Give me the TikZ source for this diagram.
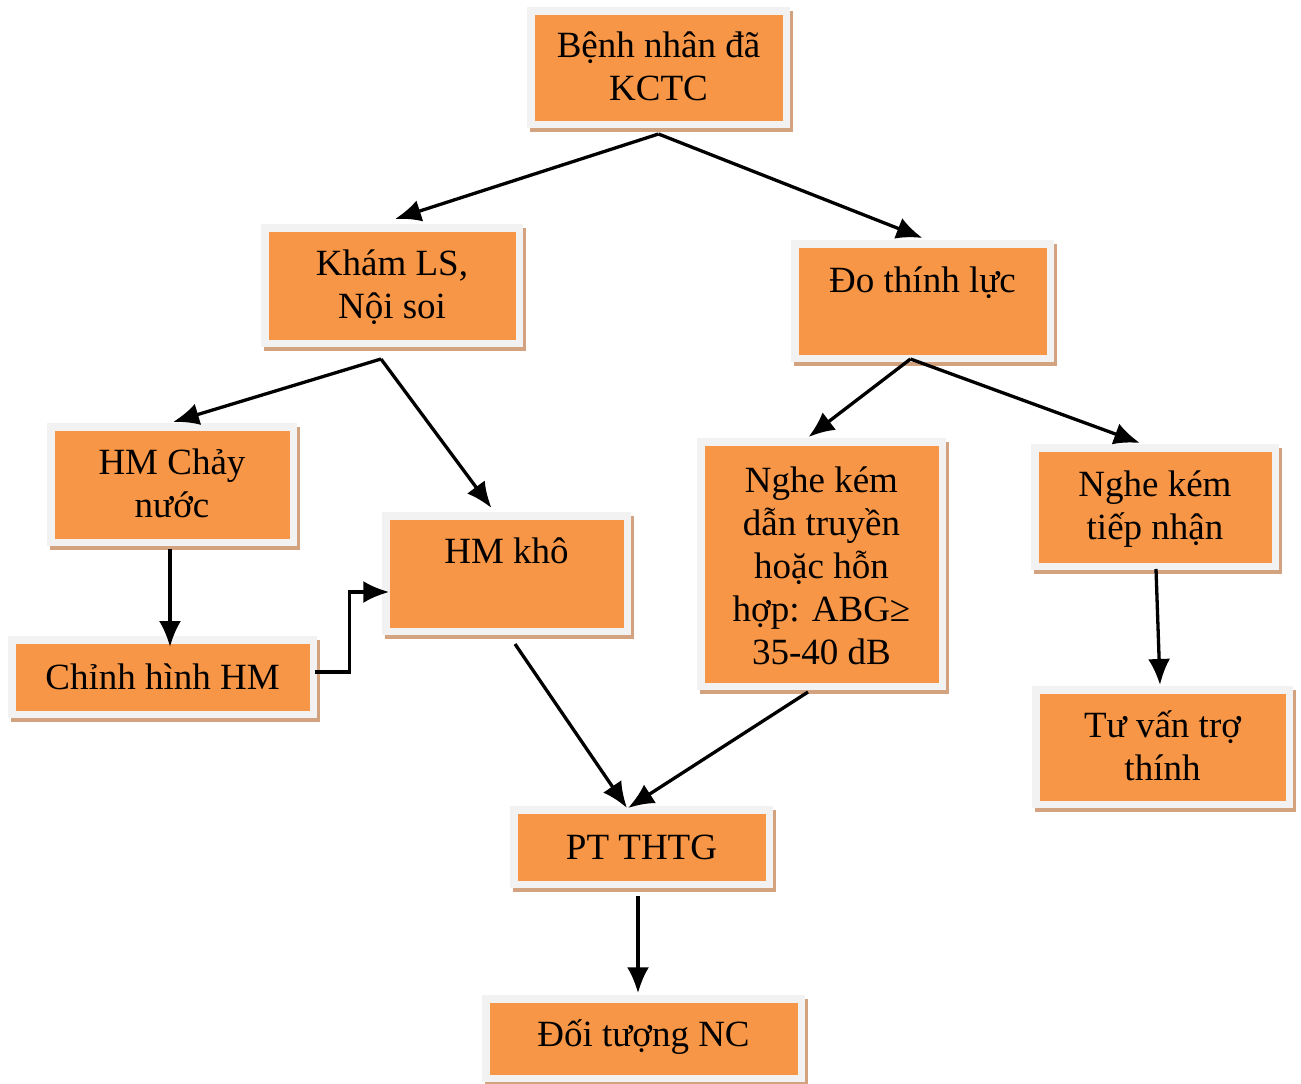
\documentclass[tikz,border=0pt]{standalone}
\usepackage{fontspec}
\setmainfont{Liberation Serif}
\usepackage{xcolor}
\usepackage{tikz}
\usetikzlibrary{shapes,backgrounds,calc,shadows,arrows.meta}

\definecolor{boxorange}{HTML}{F79646}
\definecolor{framegrey}{HTML}{F2F2F2}
\definecolor{shadowtan}{HTML}{D3A27F}

% text of a box, set from the top: height, width, lines
\newcommand{\boxtext}[3]{\parbox[c][#1pt][t]{#2pt}{\centering\strut #3}}

\begin{document}
\begin{tikzpicture}[x=1pt,y=-1pt]
        % Define the styles for the boxes and the arrows
        \tikzstyle{orange box}=[rectangle, fill=boxorange, draw=framegrey, line width=7.5pt, inner sep=0pt,
            drop shadow={shadow xshift=3pt, shadow yshift=-3.5pt, fill=shadowtan, draw=shadowtan, line width=7.5pt, opacity=1},
            font=\fontsize{37}{43}\selectfont];
        \tikzstyle{flow}=[draw=black, line width=3.3pt, -{Latex[length=26pt,width=22pt]}];

        \useasboundingbox (0,0) rectangle (1301,1084);

        % Draw the boxes
        \node[orange box, minimum width=255.5pt, minimum height=113.5pt] (benhnhan) at (658.5,67.5) {\boxtext{81}{240}{Bệnh nhân đã\\KCTC}};
        \node[orange box, minimum width=254.5pt, minimum height=115.5pt] (kham) at (392,285.5) {\boxtext{81}{240}{Khám LS,\\Nội soi}};
        \node[orange box, minimum width=255.5pt, minimum height=114.5pt] (dothinh) at (922.5,301) {\boxtext{78}{240}{Đo thính lực}};
        \node[orange box, minimum width=242.5pt, minimum height=115.5pt] (chay) at (172,484.5) {\boxtext{81}{230}{HM Chảy\\nước}};
        \node[orange box, minimum width=241.5pt, minimum height=115.5pt] (kho) at (506.5,573.5) {\boxtext{81}{230}{HM khô}};
        \node[orange box, minimum width=301.5pt, minimum height=74.5pt] (chinh) at (162.5,677) {\boxtext{36}{290}{Chỉnh hình HM}};
        \node[orange box, minimum width=241.5pt, minimum height=244.5pt] (nghedan) at (821.5,564) {\boxtext{204}{230}{Nghe kém\\dẫn truyền\\hoặc hỗn\\hợp: ABG≥\\35-40 dB}};
        \node[orange box, minimum width=240.5pt, minimum height=118.5pt] (nghetiep) at (1155,507) {\boxtext{82}{230}{Nghe kém\\tiếp nhận}};
        \node[orange box, minimum width=253.5pt, minimum height=114.5pt] (tuvan) at (1162.5,747) {\boxtext{80}{240}{Tư vấn trợ\\thính}};
        \node[orange box, minimum width=255.5pt, minimum height=74.5pt] (ptthtg) at (641.5,847) {\boxtext{36}{240}{PT THTG}};
        \node[orange box, minimum width=315.5pt, minimum height=79.5pt] (doituong) at (643.5,1038.5) {\boxtext{45}{300}{Đối tượng NC}};

        % Draw the arrows between the boxes
        \draw[flow] ($(benhnhan.south)+(0,6)$) -- ($(kham.north)+(3,-5)$);
        \draw[flow] ($(benhnhan.south)+(0,6)$) -- ($(dothinh.north)+(0,-2)$);
        \draw[flow] ($(kham.south)+(-11,12)$) -- ($(chay.north)+(1,-1)$);
        \draw[flow] ($(kham.south)+(-11,12)$) -- ($(kho.north)+(-15,-4)$);
        \draw[flow] ($(dothinh.south)+(-12,-3)$) -- ($(nghedan.north)+(-13,-1)$);
        \draw[flow] ($(dothinh.south)+(-12,-3)$) -- ($(nghetiep.north)+(-15,-1)$);
        \draw[flow] ($(chay.south)+(-2,3)$) -- ($(chinh.north)+(7.5,11)$);
        \draw[flow] ($(chinh.east)+(-2,-5)$) -| ($(kho.west)+(-32.75,18.5)$) -- ($(kho.west)+(7.25,18.5)$);
        \draw[flow] ($(kho.south)+(8.5,9)$) -- ($(ptthtg.north)+(-14.5,2)$);
        \draw[flow] ($(nghedan.south)+(-13.5,2)$) -- ($(ptthtg.north)+(-13.5,2)$);
        \draw[flow] ($(nghetiep.south)+(1,-1)$) -- ($(tuvan.north)+(-2.5,-1)$);
        \draw[flow] ($(ptthtg.south)+(-3.5,8)$) -- ($(doituong.north)+(-5.5,-1.75)$);

    \end{tikzpicture}
\end{document}
